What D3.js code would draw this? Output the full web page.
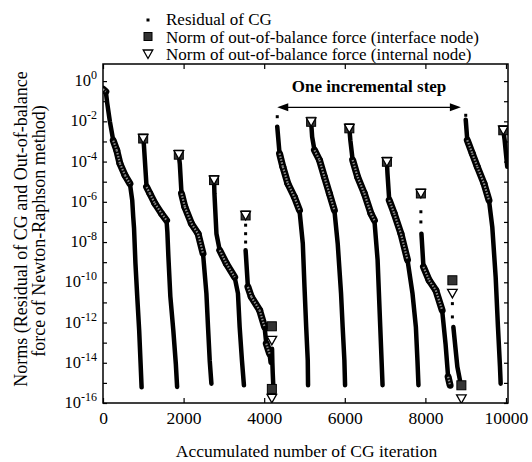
<!DOCTYPE html>
<html>
<head>
<meta charset="utf-8">
<script src="https://cdn.jsdelivr.net/npm/d3@7/dist/d3.min.js"></script>
<style>
  body { margin: 0; background: #fff; }
  svg text { font-family: "Liberation Serif", "Times New Roman", serif; }
</style>
</head>
<body>
<svg id="chart"></svg>
<script>
// x tick values and their labels
const xTicks = [0, 2000, 4000, 6000, 8000, 10000];
const xTickLabels = ["0", "2000", "4000", "6000", "8000", "10000"];
// decade ticks on the y axis, labelled every second decade
const yTicks = [1, 1e-1, 1e-2, 1e-3, 1e-4, 1e-5, 1e-6, 1e-7, 1e-8, 1e-9, 1e-10, 1e-11, 1e-12, 1e-13, 1e-14, 1e-15, 1e-16];
const yLabelTicks = [1, 1e-2, 1e-4, 1e-6, 1e-8, 1e-10, 1e-12, 1e-14, 1e-16];
const yTickExponents = ["0", "-2", "-4", "-6", "-8", "-10", "-12", "-14", "-16"];

// residual of CG, one array per CG run: [accumulated iteration, residual]
const cgRun1 = [[0, 0.4], [70, 0.3], [105, 8e-2], [170, 1e-2], [255, 1.1e-3], [340, 3.7e-4], [420, 8e-5], [545, 2.1e-5], [668, 8e-6], [725, 1.2e-6], [750, 1.8e-7], [770, 5e-8], [805, 8.7e-10], [850, 1.9e-11], [898, 4e-13], [933, 9e-15], [958, 6e-16]];
const cgRun2 = [[1000, 1.4e-3], [1015, 6.6e-4], [1081, 5.5e-6], [1163, 2.6e-6], [1287, 8.3e-7], [1453, 2.6e-7], [1577, 1.2e-7], [1597, 3.2e-8], [1622, 2e-9], [1671, 2e-11], [1745, 4e-13], [1807, 8.9e-15], [1839, 6.3e-16]];
const cgRun3 = [[1881, 2.2e-4], [1906, 7.9e-5], [1948, 2.6e-6], [2030, 5.6e-7], [2195, 8.3e-8], [2359, 2.6e-8], [2482, 2.7e-9], [2566, 2.8e-11], [2606, 6e-13], [2648, 1.3e-14], [2690, 9.1e-16]];
const cgRun4 = [[2756, 1.2e-5], [2765, 2.6e-6], [2815, 2.6e-8], [2896, 3.9e-9], [3062, 8.5e-10], [3267, 1.8e-10], [3349, 2.8e-11], [3391, 6e-13], [3448, 1.3e-14], [3497, 7.6e-16]];
const cgRun5 = [[3539, 3.9e-9], [3596, 5.9e-11], [3680, 1.9e-11], [3886, 4.1e-12], [4010, 6e-13], [4052, 8.9e-14], [4133, 2.8e-14], [4160, 1e-14]];
const cgRun6 = [[4195, 5e-14], [4203, 1e-14], [4212, 3e-15], [4225, 8e-16]];
const cgRun7 = [[4324, 5.4e-3], [4381, 2.5e-4], [4463, 5.5e-5], [4586, 8.1e-6], [4752, 1.7e-6], [4876, 3.8e-7], [4958, 8.5e-9], [5000, 5.9e-11], [5042, 6e-13], [5081, 1.3e-14], [5088, 7.6e-16]];
const cgRun8 = [[5165, 9.5e-3], [5190, 1.7e-3], [5247, 3.7e-4], [5371, 1.2e-4], [5495, 1.7e-5], [5618, 2.6e-6], [5742, 3.8e-7], [5824, 8.5e-9], [5907, 2.8e-11], [5947, 6e-13], [5990, 1.3e-14], [6007, 7.6e-16]];
const cgRun9 = [[6113, 4.5e-3], [6138, 1.15e-3], [6195, 1.2e-4], [6319, 1.7e-5], [6485, 2.6e-6], [6650, 2.6e-7], [6735, 1.2e-7], [6814, 1.3e-9], [6880, 6e-13], [6937, 7.6e-16]];
const cgRun10 = [[7045, 9.8e-5], [7059, 2.6e-5], [7103, 1.2e-6], [7227, 2.6e-7], [7393, 2.6e-8], [7556, 1.3e-9], [7680, 2.8e-11], [7764, 6e-13], [7803, 1.3e-14], [7828, 7.6e-16]];
const cgRun11 = [[7902, 2.6e-8], [7952, 5.8e-10], [8093, 1.26e-10], [8259, 4e-11], [8416, 4.1e-12], [8500, 8.9e-14], [8564, 2e-15], [8613, 7.6e-16]];
const cgRun12 = [[8694, 6e-13], [8793, 6.3e-15], [8860, 1.3e-15]];
const cgRun13 = [[9001, 1.2e-2], [9040, 1.15e-3], [9164, 2.5e-4], [9288, 5.5e-5], [9454, 8.1e-6], [9578, 1.2e-6], [9660, 5.6e-8], [9744, 1.8e-10], [9801, 6e-13], [9851, 6.3e-15], [9868, 9.1e-16]];
const cgRun14 = [[9933, 3.6e-3], [9967, 1.15e-3], [10031, 5.5e-5]];
// single CG residuals drawn as separate dots
const cgDots = [[4324, 1.7e-2], [9001, 2e-2], [3539, 6.9e-8], [3539, 2.6e-8], [3539, 1e-8], [7888, 3.2e-7], [7888, 1e-7], [8670, 8.7e-12], [8670, 1.9e-12]];

// norm of out-of-balance force at each Newton-Raphson iteration
const interfaceNorm = [[997, 1.4e-3], [1881, 2.2e-4], [2756, 1.2e-5], [3539, 2.1e-7], [4190, 6.5e-13], [4190, 5e-16], [5165, 9.5e-3], [6113, 4.5e-3], [7045, 9.8e-5], [7888, 2.6e-6], [8670, 1.26e-10], [8893, 7.6e-16], [9933, 3.6e-3]];
const internalNorm = [[997, 1.4e-3], [1881, 2.2e-4], [2756, 1.2e-5], [3539, 2.1e-7], [4190, 1.3e-13], [4190, 1.7e-16], [5165, 9.5e-3], [6113, 4.5e-3], [7045, 9.8e-5], [7888, 2.6e-6], [8670, 2.8e-11], [8893, 1.6e-16], [9933, 3.6e-3]];

const legendLabels = ["Residual of CG", "Norm of out-of-balance force (interface node)", "Norm of out-of-balance force (internal node)"];
const stepStart = 4324, stepEnd = 8880, stepLevel = 5e-2;

const width = 532, height = 462;
const margin = { top: 64, right: 24, bottom: 59, left: 103 };
const plotW = width - margin.left - margin.right;
const plotH = height - margin.top - margin.bottom;
const serif = "Liberation Serif, Times New Roman, serif";

const svg = d3.select("#chart").attr("width", width).attr("height", height)
    .attr("font-family", serif);

const x = d3.scaleLinear().domain([0, 10050]).range([0, plotW]);
const y = d3.scaleLog().domain([1e-16, 7.08]).range([plotH, 0]);

const g = svg.append("g").attr("transform", `translate(${margin.left},${margin.top})`);

g.append("clipPath").attr("id", "plotClip")
    .append("rect").attr("width", plotW).attr("height", plotH);

// axes with inward ticks
const xAxisB = d3.axisBottom(x).tickValues(xTicks).tickFormat((d, i) => xTickLabels[i]).tickSizeInner(-5).tickSizeOuter(0).tickPadding(9);
const xAxisT = d3.axisTop(x).tickValues(xTicks).tickFormat("").tickSizeInner(-5).tickSizeOuter(0);
const yAxisL = d3.axisLeft(y).tickValues(yTicks).tickFormat("").tickSizeInner(-4).tickSizeOuter(0);
const yAxisR = d3.axisRight(y).tickValues(yTicks).tickFormat("").tickSizeInner(-4).tickSizeOuter(0);

const gxB = g.append("g").attr("transform", `translate(0,${plotH})`).call(xAxisB);
g.append("g").call(xAxisT);
g.append("g").call(yAxisL);
g.append("g").attr("transform", `translate(${plotW},0)`).call(yAxisR);
g.selectAll(".domain").remove();
g.selectAll("g").attr("font-family", serif);
g.selectAll(".tick line").attr("stroke", "#000").attr("stroke-width", 1.2);
gxB.selectAll("text").attr("font-size", 17.5).attr("fill", "#000");

// y labels as 10 with superscript exponent
const yLab = g.append("g");
yLabelTicks.forEach((v, i) => {
    const t = yLab.append("text")
        .attr("x", -6)
        .attr("y", y(v) + 5)
        .attr("text-anchor", "end")
        .attr("font-size", 16.5)
        .text("10");
    t.append("tspan").attr("dy", -7).attr("font-size", 12).text(yTickExponents[i]);
});

g.append("rect").attr("width", plotW).attr("height", plotH)
    .attr("fill", "none").attr("stroke", "#000").attr("stroke-width", 1.5);

// CG residual runs
const runs = [cgRun1, cgRun2, cgRun3, cgRun4, cgRun5, cgRun6, cgRun7, cgRun8, cgRun9, cgRun10, cgRun11, cgRun12, cgRun13, cgRun14];
const line = d3.line().x(d => x(d[0])).y(d => y(d[1]));
const plot = g.append("g").attr("clip-path", "url(#plotClip)");

plot.selectAll(".run").data(runs).enter().append("path")
    .attr("class", "run")
    .attr("d", line)
    .attr("fill", "none")
    .attr("stroke", "#000")
    .attr("stroke-width", 4.5)
    .attr("stroke-linejoin", "round")
    .attr("stroke-linecap", "round");

// where a run flattens its dots pile up into a wider speckled band
const flatParts = [];
runs.forEach(r => {
    for (let i = 1; i < r.length; i++) {
        const dx = x(r[i][0]) - x(r[i - 1][0]);
        const dy = y(r[i][1]) - y(r[i - 1][1]);
        if (dx > 0 && dy / dx < 4.5) flatParts.push([r[i - 1], r[i]]);
    }
});
plot.selectAll(".flat").data(flatParts).enter().append("path")
    .attr("class", "flat")
    .attr("d", line)
    .attr("fill", "none")
    .attr("stroke", "#000")
    .attr("stroke-width", 7)
    .attr("stroke-linecap", "round");
plot.selectAll(".flatIn").data(flatParts).enter().append("path")
    .attr("class", "flatIn")
    .attr("d", line)
    .attr("fill", "none")
    .attr("stroke", "#8a8a8a")
    .attr("stroke-width", 2.2)
    .attr("stroke-dasharray", "1.5 1.5");

plot.selectAll(".dot").data(cgDots).enter().append("rect")
    .attr("class", "dot")
    .attr("x", d => x(d[0]) - 1.5)
    .attr("y", d => y(d[1]) - 1.5)
    .attr("width", 3).attr("height", 3)
    .attr("fill", "#000");

const tri = "M-4.8,-4 L4.8,-4 L0,4.5 Z";

plot.selectAll(".sq").data(interfaceNorm).enter().append("rect")
    .attr("class", "sq")
    .attr("x", d => x(d[0]) - 4.5)
    .attr("y", d => y(d[1]) - 4.5)
    .attr("width", 9).attr("height", 9)
    .attr("fill", "#333").attr("stroke", "#000").attr("stroke-width", 1);

plot.selectAll(".tri").data(internalNorm).enter().append("path")
    .attr("class", "tri")
    .attr("d", tri)
    .attr("transform", d => `translate(${x(d[0])},${y(d[1])})`)
    .attr("fill", "#fff").attr("stroke", "#000").attr("stroke-width", 1.3);

// one incremental step annotation
const ay = y(stepLevel);
const ax1 = x(stepStart), ax2 = x(stepEnd);
g.append("line").attr("x1", ax1 + 6).attr("x2", ax2 - 6).attr("y1", ay).attr("y2", ay)
    .attr("stroke", "#000").attr("stroke-width", 1.2);
g.append("path").attr("d", `M${ax1},${ay} l11,-4 l0,8 Z`).attr("fill", "#000");
g.append("path").attr("d", `M${ax2},${ay} l-11,-4 l0,8 Z`).attr("fill", "#000");
g.append("text").attr("x", (ax1 + ax2) / 2).attr("y", ay - 15)
    .attr("text-anchor", "middle").attr("font-size", 17).attr("font-weight", "bold")
    .text("One incremental step");

// legend
const leg = svg.append("g").attr("font-size", 17);
const legY = [25, 42.5, 60];
leg.append("rect").attr("x", 146.5).attr("y", legY[0] - 6.5).attr("width", 3).attr("height", 3).attr("fill", "#000");
leg.append("rect").attr("x", 144).attr("y", legY[1] - 10).attr("width", 8).attr("height", 8)
    .attr("fill", "#333").attr("stroke", "#000");
leg.append("path").attr("d", tri).attr("transform", `translate(148,${legY[2] - 6})`)
    .attr("fill", "#fff").attr("stroke", "#000").attr("stroke-width", 1.3);
legendLabels.forEach((t, i) => {
    leg.append("text").attr("x", 166).attr("y", legY[i]).text(t);
});

// axis titles
svg.append("text").attr("x", margin.left + plotW / 2 + 1).attr("y", 457)
    .attr("text-anchor", "middle").attr("font-size", 17.5)
    .text("Accumulated number of CG iteration");
svg.append("text").attr("transform", "translate(27,229) rotate(-90)")
    .attr("text-anchor", "middle").attr("font-size", 18)
    .text("Norms (Residual of CG and Out-of-balance");
svg.append("text").attr("transform", "translate(45,231) rotate(-90)")
    .attr("text-anchor", "middle").attr("font-size", 18)
    .text("force of Newton-Raphson method)");
</script>
</body>
</html>
